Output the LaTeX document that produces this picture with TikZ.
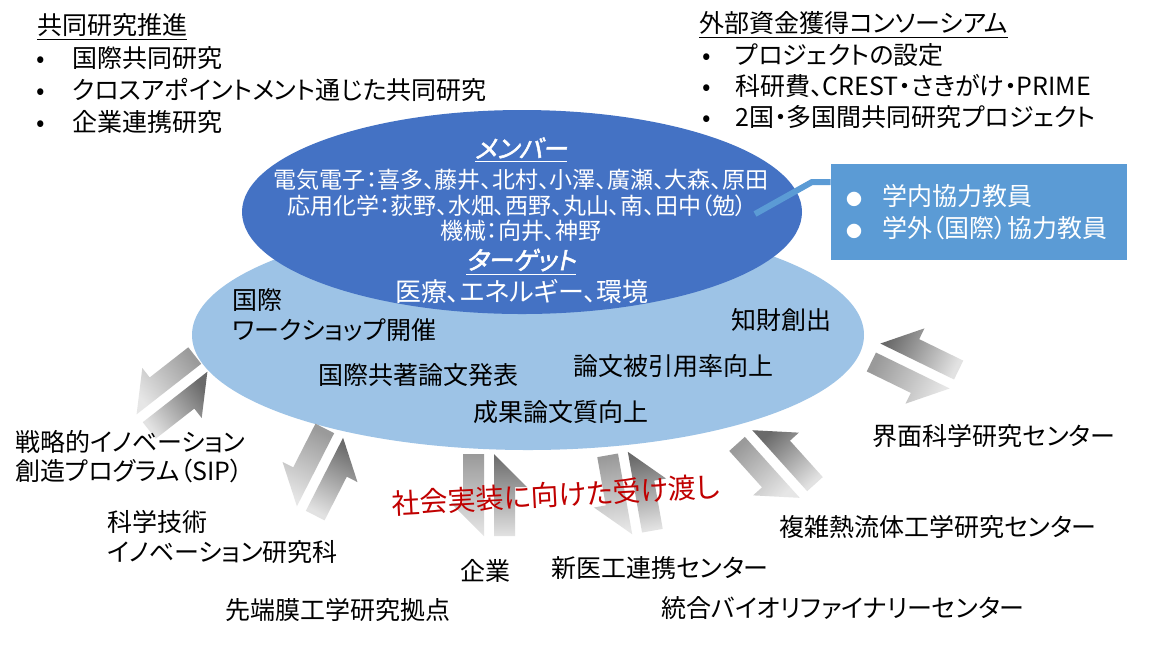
\documentclass[tikz,border=0pt]{standalone}
\usepackage{fontspec}
\setmainfont{Noto Sans CJK JP}[RawFeature=+palt]
\newfontfamily\jpbold{Noto Sans CJK JP}[RawFeature=+palt,FakeBold=2,FakeSlant=0.2]
\usetikzlibrary{shapes.geometric}
\definecolor{lightell}{HTML}{9DC3E6}
\definecolor{darkell}{HTML}{4472C4}
\definecolor{boxblue}{HTML}{5B9BD5}
\definecolor{redtxt}{HTML}{C00000}
\definecolor{arrdark}{HTML}{6A6A6A}
\definecolor{arrlight}{HTML}{E2E2E2}
\definecolor{arrmid}{HTML}{9A9A9A}
\definecolor{arrlight2}{HTML}{E6E6E6}
\tikzset{
  txt/.style={inner sep=0pt, font=\fontsize{12.5pt}{15pt}\selectfont},
  wtxt/.style={inner sep=0pt, text=white, font=\fontsize{11.5pt}{14pt}\selectfont},
  wtitle/.style={inner sep=0pt, text=white, font=\fontsize{12.5pt}{15pt}\jpbold},
  pics/apair/.style={code={
    \pgfmathsetmacro\shadeang{#1-90}
    \path[top color=arrdark, bottom color=arrlight, shading angle=\shadeang]
      (-41,5) -- (41,5) -- (8,38) -- (8,26) -- (-41,26) -- cycle;
    \path[top color=arrmid, bottom color=arrlight2, shading angle=\shadeang]
      (41,-5) -- (-41,-5) -- (-8,-38) -- (-8,-26) -- (41,-26) -- cycle;
  }}
}
\begin{document}
\begin{tikzpicture}[x=0.5pt,y=-0.5pt]
\useasboundingbox (0,0) rectangle (1168,645);
\fill[white] (0,0) rectangle (1168,645);

% ellipses
\node[ellipse, fill=lightell, draw=none, inner sep=0pt, minimum width=336pt, minimum height=115pt] (light) at (528,335) {};
\node[ellipse, fill=darkell, draw=none, inner sep=0pt, minimum width=280pt, minimum height=102pt] (dark) at (522,212) {};

% arrow pairs
\pic[rotate=38]  (pA) at (172,393) {apair=38};
\pic[rotate=63]  (pB) at (320,472) {apair=63};
\pic[rotate=90]  (pC) at (489,495) {apair=90};
\pic[rotate=100] (pD) at (630,493) {apair=100};
\pic[rotate=132] (pE) at (776,464) {apair=132};
\pic[rotate=154] (pF) at (915,366) {apair=154};

% callout box
\node[fill=boxblue, inner xsep=7.5pt, inner ysep=0pt, minimum height=48pt, text width=133pt, align=left, text=white,
      font=\fontsize{12.5pt}{16pt}\selectfont] (box) at (979,212)
  {{\fontsize{8pt}{8pt}\selectfont ●}\hspace{10pt}学内協力教員\\
   {\fontsize{8pt}{8pt}\selectfont ●}\hspace{10pt}学外（国際）協力教員};
\coordinate (cbend) at (812,182);
\coordinate (cend) at (755,214);
\draw[boxblue, line width=3pt] (box.west |- cbend) -- (cbend) -- (cend);

% dark ellipse text
\node[wtitle] (mem) at (521,150) {\underline{メンバー}};
\node[wtxt] (m1) at (521,180) {電気電子：喜多、藤井、北村、小澤、廣瀬、大森、原田};
\node[wtxt] (m2) at (517,206) {応用化学：荻野、水畑、西野、丸山、南、田中（勉）};
\node[wtxt] (m3) at (521,231) {機械：向井、神野};
\node[wtitle] (tgt) at (521,262) {\underline{ターゲット}};
\node[inner sep=0pt, text=white, font=\fontsize{13pt}{15pt}\selectfont] (tg1) at (522,291) {医療、エネルギー、環境};

% light ellipse text
\node[txt, anchor=west, align=left] (ws) at (232,315) {国際\\ワークショップ開催};
\node[txt] (ip) at (781,320) {知財創出};
\node[txt] (kyo) at (418,375) {国際共著論文発表};
\node[txt] (cite) at (673,366) {論文被引用率向上};
\node[txt] (qual) at (561,412) {成果論文質向上};

% top blocks
\node[txt, anchor=west] (tlt) at (37,27) {\underline{共同研究推進}};
\node[txt, anchor=west] (tl1) at (36,58) {\makebox[18pt][l]{•}国際共同研究};
\node[txt, anchor=west] (tl2) at (36,90) {\makebox[18pt][l]{•}クロスアポイントメント通じた共同研究};
\node[txt, anchor=west] (tl3) at (36,122) {\makebox[18pt][l]{•}企業連携研究};

\node[txt, anchor=west] (trt) at (699,25) {\underline{外部資金獲得コンソーシアム}};
\node[txt, anchor=west] (tr1) at (702,55) {\makebox[16.5pt][l]{•}プロジェクトの設定};
\node[txt, anchor=west] (tr2) at (702,86) {\makebox[16.5pt][l]{•}科研費、CREST・さきがけ・PRIME};
\node[txt, anchor=west] (tr3) at (702,117) {\makebox[16.5pt][l]{•}2国・多国間共同研究プロジェクト};

% outer labels
\node[txt, anchor=west, align=left, font=\fontsize{12.5pt}{14.5pt}\selectfont] (sip) at (15,457) {戦略的イノベーション\\創造プログラム（SIP）};
\node[txt, anchor=west, align=left, font=\fontsize{12.5pt}{15pt}\selectfont] (mot) at (107,537) {科学技術\\イノベーション研究科};
\node[txt] (memb) at (338,610) {先端膜工学研究拠点};
\node[txt] (corp) at (485,571) {企業};
\node[txt] (med) at (660,568) {新医工連携センター};
\node[txt] (bio) at (843,608) {統合バイオリファイナリーセンター};
\node[txt] (flow) at (938,527) {複雑熱流体工学研究センター};
\node[txt] (surf) at (994,436) {界面科学研究センター};

% red text
\node[inner sep=0pt, rotate=3, text=redtxt, font=\fontsize{14pt}{16pt}\selectfont] (hand) at (556,495) {社会実装に向けた受け渡し};
\end{tikzpicture}
\end{document}
